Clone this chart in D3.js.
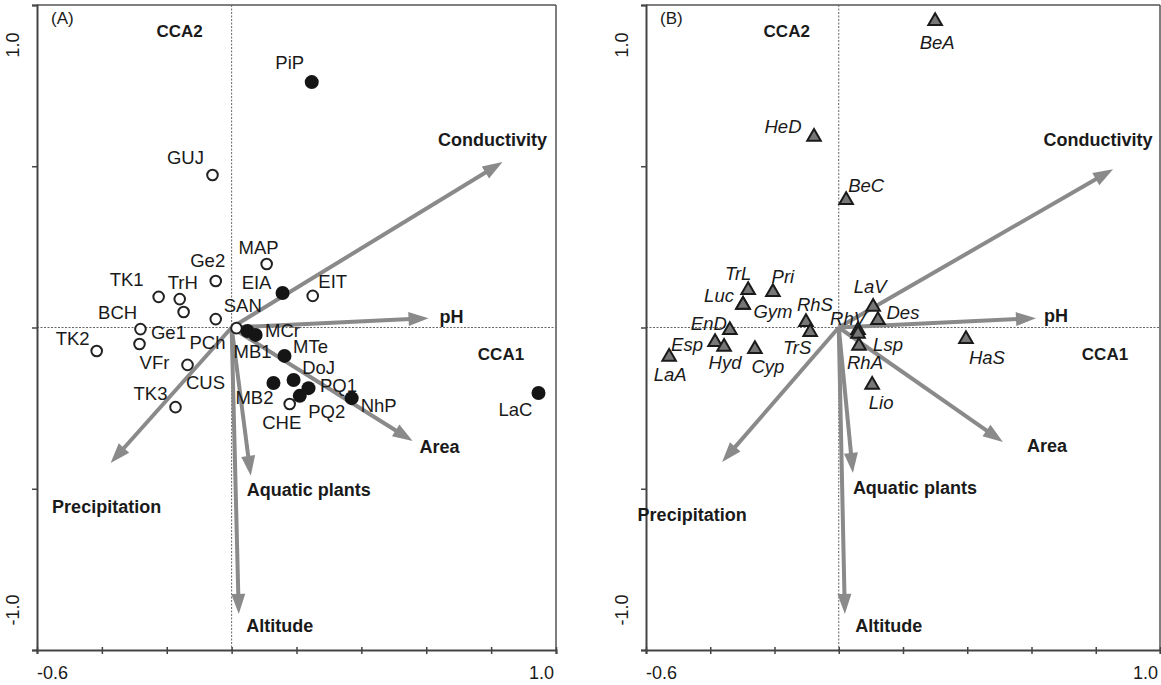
<!DOCTYPE html>
<html>
<head>
<meta charset="utf-8">
<script src="https://cdn.jsdelivr.net/npm/d3@7"></script>
<style>
  body { margin: 0; background: #fff; }
  svg { font-family: "Liberation Sans", Arial, sans-serif; }
</style>
</head>
<body>
<svg width="1161" height="685"></svg>
<script>
var svg = d3.select('svg');

// ---- data (CCA scores) ----
// panel A: sites, open = one group, filled = the other
var siteNames  = ['GUJ','MAP','Ge2','TK1','TrH','BCH','SAN','Ge1','VFr','TK2','PCh','CUS','TK3','EIT','CHE',
                  'PiP','EIA','MCr','MB1','MTe','DoJ','MB2','PQ1','PQ2','NhP','LaC'];
var siteX      = [-0.059,0.108,-0.049,-0.225,-0.160,-0.148,-0.049,-0.281,-0.284,-0.416,0.015,-0.136,-0.173,0.250,0.179,
                  0.247,0.157,0.049,0.074,0.163,0.191,0.129,0.237,0.210,0.370,0.946];
var siteY      = [0.473,0.197,0.144,0.095,0.088,0.048,0.026,-0.005,-0.051,-0.073,-0.002,-0.116,-0.247,0.098,-0.237,
                  0.761,0.107,-0.011,-0.023,-0.088,-0.163,-0.172,-0.188,-0.212,-0.219,-0.203];
var siteFilled = [0,0,0,0,0,0,0,0,0,0,0,0,0,0,0,
                  1,1,1,1,1,1,1,1,1,1,1];
// label offsets (px) from each point
var siteLabelDx = [-27,-8,-8,-32,3,-66,27,28,15,-24,-29,18,-25,20,-8,
                   -22,-26,35,-3,26,25,-19,30,27,27,-23];
var siteLabelDy = [-17,-16,-21,-17,-17,1,-14,3,19,-13,14,18,-14,-14,19,
                   -20,-10,-1,17,-9,-13,15,-3,16,7,17];

// panel B: taxa
var taxaNames = ['BeA','HeD','BeC','TrL','Pri','Luc','Gym','RhS','TrS','EnD','Esp','Hyd','Cyp','LaA',
                 'LaV','Des','RhV','Lsp','RhA','HaS','Lio'];
var taxaX     = [0.300,-0.077,0.023,-0.282,-0.205,-0.298,-0.298,-0.102,-0.089,-0.339,-0.385,-0.357,-0.261,-0.528,
                 0.107,0.122,0.060,0.060,0.063,0.396,0.104];
var taxaY     = [0.950,0.591,0.395,0.116,0.110,0.070,0.070,0.017,-0.014,-0.008,-0.045,-0.060,-0.067,-0.091,
                 0.064,0.023,-0.008,-0.020,-0.057,-0.036,-0.178];
var taxaLabelDx = [2,-31,20,-10,10,-24,30,9,-13,-21,-28,1,13,1,-3,25,-10,30,6,21,9];
var taxaLabelDy = [21,-10,-15,-17,-16,-9,7,-17,16,-7,3,16,17,18,-20,-8,-12,11,17,18,18];

// environmental variables (biplot arrows)
var envNames = ['Conductivity','pH','Area','Aquatic plants','Precipitation','Altitude'];
var envAX = [0.835,0.607,0.558,0.059,-0.373,0.022];
var envAY = [0.513,0.029,-0.352,-0.460,-0.420,-0.888];
var envBX = [0.854,0.614,0.511,0.044,-0.363,0.019];
var envBY = [0.491,0.029,-0.355,-0.451,-0.417,-0.888];
var envALabelDx = [-10,23,27,58,-4,41];
var envALabelDy = [-22,-1,6,14,44,12];
var envBLabelDx = [-15,20,44,62,-30,44];
var envBLabelDy = [-29,-2,4,15,53,12];

var xDomain = [-0.6, 1.0];
var yDomain = [-1.0, 1.0];
var xTicks = [-0.6,-0.4,-0.2,0,0.2,0.4,0.6,0.8,1.0];
var yTicks = [-1.0,-0.5,0,0.5,1.0];

var arrowColor = '#8a8a8a';

function drawPanel(p){
  var x = d3.scaleLinear().domain(xDomain).range([p.left, p.right]);
  var y = d3.scaleLinear().domain(yDomain).range([p.bottom, p.top]);
  var g = svg.append('g');

  // frame top/right
  g.append('line').attr('x1', p.left).attr('x2', p.right).attr('y1', p.top).attr('y2', p.top)
    .attr('stroke', '#555').attr('stroke-width', 1.5);
  g.append('line').attr('x1', p.right).attr('x2', p.right).attr('y1', p.top).attr('y2', p.bottom)
    .attr('stroke', '#555').attr('stroke-width', 1.5);

  // zero lines
  g.append('line').attr('x1', p.left).attr('x2', p.right).attr('y1', y(0)).attr('y2', y(0))
    .attr('stroke', '#666').attr('stroke-width', 1).attr('stroke-dasharray', '2,1.5');
  g.append('line').attr('x1', x(0)).attr('x2', x(0)).attr('y1', p.top).attr('y2', p.bottom)
    .attr('stroke', '#666').attr('stroke-width', 1).attr('stroke-dasharray', '2,1.5');

  // axes
  var ax = g.append('g').attr('transform', 'translate(0,' + p.bottom + ')')
    .call(d3.axisBottom(x).tickValues(xTicks).tickSize(4).tickFormat(''));
  var ay = g.append('g').attr('transform', 'translate(' + p.left + ',0)')
    .call(d3.axisLeft(y).tickValues(yTicks).tickSize(5).tickFormat(''));
  [ax, ay].forEach(function(a){
    a.select('.domain').attr('stroke', '#444').attr('stroke-width', 2);
    a.selectAll('.tick line').attr('stroke', '#444').attr('stroke-width', 1.5);
  });
  ax.selectAll('.tick line').attr('y1', -3);

  // end labels
  g.append('text').attr('x', p.left).attr('y', p.bottom + 29).attr('font-size', 18)
    .attr('fill', '#1a1a1a').text('-0.6');
  g.append('text').attr('x', p.right - 2).attr('y', p.bottom + 29).attr('font-size', 18)
    .attr('text-anchor', 'end').attr('fill', '#1a1a1a').text('1.0');
  g.append('text').attr('transform', 'translate(' + (p.left - 18) + ',' + (p.top + 40) + ') rotate(-90)')
    .attr('text-anchor', 'middle').attr('font-size', 18).attr('fill', '#1a1a1a').text('1.0');
  g.append('text').attr('transform', 'translate(' + (p.left - 18) + ',' + (p.bottom - 40) + ') rotate(-90)')
    .attr('text-anchor', 'middle').attr('font-size', 18).attr('fill', '#1a1a1a').text('-1.0');

  g.append('text').attr('x', p.left + 14).attr('y', p.top + 19).attr('font-size', 17)
    .attr('fill', '#1a1a1a').text(p.tag);
  g.append('text').attr('x', x(0) - 52).attr('y', p.top + 32).attr('font-size', 17)
    .attr('font-weight', 'bold').attr('text-anchor', 'middle').attr('fill', '#1a1a1a').text('CCA2');
  g.append('text').attr('x', p.right - 55).attr('y', y(0) + 32).attr('font-size', 17)
    .attr('font-weight', 'bold').attr('text-anchor', 'middle').attr('fill', '#1a1a1a').text('CCA1');

  // arrows
  var head = 20, hw = 7;
  p.envX.forEach(function(v, i){
    var x0 = x(0), y0 = y(0), x1 = x(v), y1 = y(p.envY[i]);
    var dx = x1 - x0, dy = y1 - y0, len = Math.sqrt(dx*dx + dy*dy);
    var ux = dx/len, uy = dy/len;
    var bx = x1 - ux*head, by = y1 - uy*head;
    g.append('line').attr('x1', x0).attr('y1', y0).attr('x2', bx + ux*2).attr('y2', by + uy*2)
      .attr('stroke', arrowColor).attr('stroke-width', 4);
    g.append('path')
      .attr('d', 'M' + x1 + ',' + y1 + 'L' + (bx - uy*hw) + ',' + (by + ux*hw) + 'L' + (bx + uy*hw) + ',' + (by - ux*hw) + 'Z')
      .attr('fill', arrowColor);
    g.append('text').attr('x', x1 + p.envDx[i]).attr('y', y1 + p.envDy[i]).attr('dy', '0.35em')
      .attr('text-anchor', 'middle').attr('font-size', 18).attr('font-weight', 'bold')
      .attr('fill', '#1a1a1a').text(envNames[i]);
  });

  return {x: x, y: y, g: g};
}

// ---- panel A ----
var A = drawPanel({left: 37, right: 556, top: 5, bottom: 650, tag: '(A)',
  envX: envAX, envY: envAY, envDx: envALabelDx, envDy: envALabelDy});

siteNames.forEach(function(n, i){
  var cx = A.x(siteX[i]), cy = A.y(siteY[i]);
  A.g.append('text').attr('x', cx + siteLabelDx[i]).attr('y', cy + siteLabelDy[i]).attr('dy', '0.35em')
    .attr('text-anchor', 'middle').attr('font-size', 18.5).attr('fill', '#1a1a1a').text(n);
});
siteNames.forEach(function(n, i){
  var cx = A.x(siteX[i]), cy = A.y(siteY[i]);
  if (siteFilled[i]) {
    A.g.append('circle').attr('cx', cx).attr('cy', cy).attr('r', 7).attr('fill', '#151515');
  } else {
    A.g.append('circle').attr('cx', cx).attr('cy', cy).attr('r', 5.3).attr('fill', '#fff')
      .attr('stroke', '#222').attr('stroke-width', 2);
  }
});

// ---- panel B ----
var B = drawPanel({left: 646, right: 1160, top: 5, bottom: 650, tag: '(B)',
  envX: envBX, envY: envBY, envDx: envBLabelDx, envDy: envBLabelDy});

var tri = d3.symbol().type(d3.symbolTriangle).size(80);
taxaNames.forEach(function(n, i){
  var cx = B.x(taxaX[i]), cy = B.y(taxaY[i]);
  B.g.append('text').attr('x', cx + taxaLabelDx[i]).attr('y', cy + taxaLabelDy[i]).attr('dy', '0.35em')
    .attr('text-anchor', 'middle').attr('font-size', 18.5).attr('font-style', 'italic')
    .attr('fill', '#1a1a1a').text(n);
});
taxaNames.forEach(function(n, i){
  var cx = B.x(taxaX[i]), cy = B.y(taxaY[i]);
  B.g.append('path').attr('d', tri).attr('transform', 'translate(' + cx + ',' + cy + ')')
    .attr('fill', '#777').attr('stroke', '#1a1a1a').attr('stroke-width', 2);
});
</script>
</body>
</html>
